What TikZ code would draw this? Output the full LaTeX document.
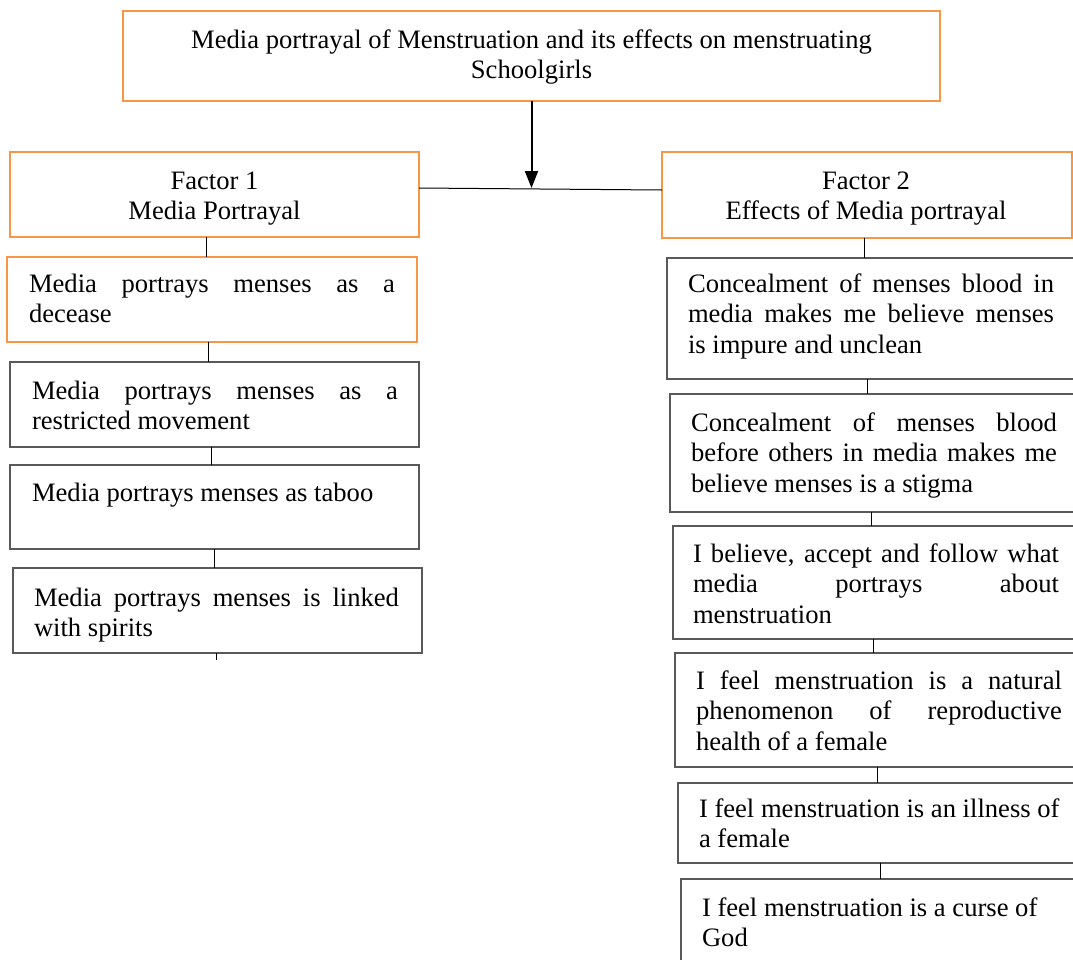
\documentclass[tikz,border=0pt]{standalone}
\usepackage{fontspec}
\setmainfont{Liberation Serif}
\usetikzlibrary{arrows.meta}
\definecolor{boxorange}{HTML}{F79646}
\definecolor{boxgray}{HTML}{595959}
\newcommand\jline[2]{\makebox[#1][s]{#2}}
\begin{document}
\begin{tikzpicture}[x=1pt,y=-1pt,
 obox/.style={draw=boxorange,line width=2.8pt,anchor=north west,inner sep=0pt,outer sep=0pt},
 gbox/.style={draw=boxgray,line width=2.8pt,anchor=north west,inner sep=0pt,outer sep=0pt},
 txt/.style={inner sep=0pt,outer sep=0pt,yshift=-3pt,font=\fontsize{26.6}{30.5}\selectfont},
 ltxt/.style={txt,anchor=north west,align=left},
 ctxt/.style={txt,anchor=north,align=center},
 conn/.style={draw=black,line width=1pt},
 arr/.style={draw=black,line width=2pt,-{Triangle[length=17pt,width=13pt]}}]
\useasboundingbox (0,0) rectangle (1073,959);
\clip (0,0) rectangle (1073,959);
% boxes
\node[obox,minimum width=817pt,minimum height=90pt] (T) at (123,11) {};
\node[obox,minimum width=409pt,minimum height=85pt] (F1) at (10,152) {};
\node[obox,minimum width=410pt,minimum height=86pt] (F2) at (662,152) {};
\node[obox,minimum width=410pt,minimum height=85pt] (L1) at (7,257) {};
\node[gbox,minimum width=409pt,minimum height=85pt] (L2) at (10,362) {};
\node[gbox,minimum width=409pt,minimum height=84pt] (L3) at (10,465) {};
\node[gbox,minimum width=409pt,minimum height=85pt] (L4) at (13,568) {};
\node[gbox,minimum width=413pt,minimum height=121pt] (R1) at (667,258) {};
\node[gbox,minimum width=410pt,minimum height=118pt] (R2) at (670,394) {};
\node[gbox,minimum width=407pt,minimum height=113pt] (R3) at (673,526) {};
\node[gbox,minimum width=405pt,minimum height=114pt] (R4) at (675,653) {};
\node[gbox,minimum width=402pt,minimum height=80pt] (R5) at (678,783) {};
\node[gbox,minimum width=399pt,minimum height=100pt] (R6) at (681,879) {};
% texts
\node[ctxt] (tT) at (531.5,23.65) {\strut Media portrayal of Menstruation and its effects on menstruating\\Schoolgirls};
\node[ctxt] (tF1) at (214.5,164.65) {\strut Factor 1\\Media Portrayal};
\node[ctxt] (tF2) at (866,164.65) {\strut Factor 2\\Effects of Media portrayal};
\node[ltxt] (tL1) at (29,267.65) {\strut\jline{366pt}{Media portrays menses as a}\\decease};
\node[ltxt] (tL2) at (32,374.65) {\strut\jline{366pt}{Media portrays menses as a}\\restricted movement};
\node[ltxt] (tL3) at (32,476.65) {\strut Media portrays menses as taboo};
\node[ltxt] (tL4) at (34,581.65) {\strut\jline{365pt}{Media portrays menses is linked}\\with spirits};
\node[ltxt] (tR1) at (688,267.65) {\strut\jline{366pt}{Concealment of menses blood in}\\\jline{366pt}{media makes me believe menses}\\is impure and unclean};
\node[ltxt] (tR2) at (691,406.65) {\strut\jline{366pt}{Concealment of menses blood}\\\jline{366pt}{before others in media makes me}\\believe menses is a stigma};
\node[ltxt] (tR3) at (693,537.65) {\strut\jline{366pt}{I believe, accept and follow what}\\\jline{366pt}{media portrays about}\\menstruation};
\node[ltxt] (tR4) at (696,664.65) {\strut\jline{366pt}{I feel menstruation is a natural}\\\jline{366pt}{phenomenon of reproductive}\\health of a female};
\node[ltxt] (tR5) at (699,792.65) {\strut I feel menstruation is an illness of\\a female};
\node[ltxt] (tR6) at (702,891.65) {\strut I feel menstruation is a curse of\\God};
% connectors
\coordinate (J) at (531.5,188);
\draw[arr] (T.south) -- (J);
\draw[conn] ([yshift=6.5pt]F1.east) -- ([yshift=5pt]F2.west);
\draw[conn] ([xshift=-8.5pt]F1.south) -- ([xshift=-8.5pt]F1.south |- L1.north);
\draw[conn] ([xshift=-4pt]L1.south) -- ([xshift=-4pt]L1.south |- L2.north);
\draw[conn] ([xshift=-3.5pt]L2.south) -- ([xshift=-3.5pt]L2.south |- L3.north);
\draw[conn] ([xshift=-0.5pt]L3.south) -- ([xshift=-0.5pt]L3.south |- L4.north);
\coordinate (Lend) at (216,660);
\draw[conn] ([xshift=-1.5pt]L4.south) -- (Lend);
\draw[conn] ([xshift=-3pt]F2.south) -- ([xshift=-3pt]F2.south |- R1.north);
\draw[conn] ([xshift=-6.5pt]R1.south) -- ([xshift=-6.5pt]R1.south |- R2.north);
\draw[conn] ([xshift=-4pt]R2.south) -- ([xshift=-4pt]R2.south |- R3.north);
\draw[conn] ([xshift=-3.5pt]R3.south) -- ([xshift=-3.5pt]R3.south |- R4.north);
\draw[conn] ([xshift=-0.5pt]R4.south) -- ([xshift=-0.5pt]R4.south |- R5.north);
\draw[conn] ([xshift=1pt]R5.south) -- ([xshift=1pt]R5.south |- R6.north);
\end{tikzpicture}
\end{document}
